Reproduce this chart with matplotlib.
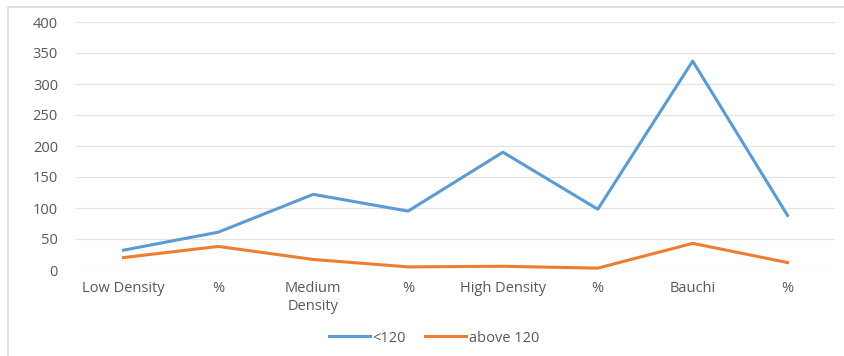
import numpy as np
import matplotlib
matplotlib.use("Agg")
import matplotlib.pyplot as plt
from matplotlib.patches import Rectangle

# dane
categories = ["Low Density", "%", "Medium\nDensity", "%", "High Density", "%", "Bauchi", "%"]
below_120 = [32, 61, 122, 95, 190, 98, 337, 88]
above_120 = [20, 38, 17, 5, 6, 3, 43, 12]
y_ticks = [0, 50, 100, 150, 200, 250, 300, 350, 400]

plt.rcParams['font.family'] = ['Open Sans', 'DejaVu Sans']
txt = "#595959"
fs = 10.5

fig = plt.figure(figsize=(8.45, 3.56), dpi=100)
W, H = 845, 356
ax = fig.add_axes([76 / W, 1 - 270 / H, (835 - 76) / W, (270 - 22) / H])

# ramka wokol calego wykresu
fig.patches.append(Rectangle((8 / W, -0.1), 1.2, 1 - 7 / H + 0.1, transform=fig.transFigure,
                             fill=False, edgecolor="#d9d9d9", linewidth=1.2))

x = np.arange(len(categories))
ax.plot(x, below_120, color="#5B9BD5", linewidth=2.2, label="<120")
ax.plot(x, above_120, color="#ED7D31", linewidth=2.2, label="above 120")

ax.set_xlim(-0.5, len(categories) - 0.5)
ax.set_ylim(0, 400)
ax.set_yticks(y_ticks)
ax.set_xticks(x)
ax.set_xticklabels(categories)
ax.tick_params(axis="both", length=0, labelsize=fs, colors=txt)
ax.tick_params(axis="x", pad=8)
ax.tick_params(axis="y", pad=13)
for lbl in ax.get_xticklabels():
    lbl.set_linespacing(1.3)
ax.grid(axis="y", color="#e3e3e3", linewidth=0.9)
ax.set_axisbelow(True)
for s in ax.spines.values():
    s.set_visible(False)

leg = fig.legend(loc="center", bbox_to_anchor=(434 / W, 1 - 338 / H), ncol=2, frameon=False,
                 fontsize=fs, handlelength=2.8, handletextpad=0.2, columnspacing=1.3)
for t in leg.get_texts():
    t.set_color(txt)

fig.savefig("out.png", dpi=100)
